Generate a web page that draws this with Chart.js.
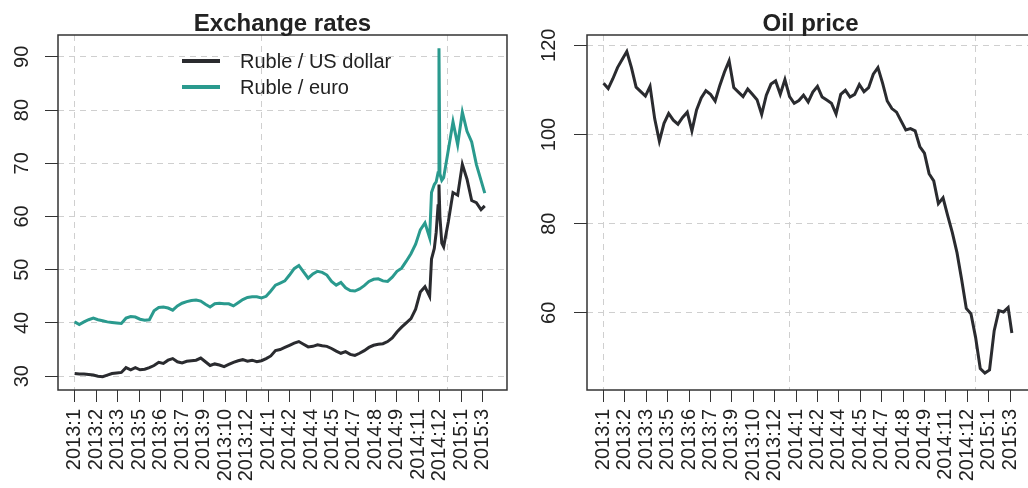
<!DOCTYPE html>
<html>
<head>
<meta charset="utf-8">
<script src="https://cdn.jsdelivr.net/npm/chart.js"></script>
<style>
    html, body { margin: 0; padding: 0; background: #fff; overflow: hidden; }
    #wrap { position: relative; width: 1028px; height: 488px; overflow: hidden; }
    #fx-chart { position: absolute; left: 0; top: 0; }
    #oil-chart { position: absolute; left: 514px; top: 0; }
</style>
</head>
<body>
<div id="wrap">
    <canvas id="fx-chart" width="514" height="488"></canvas>
    <canvas id="oil-chart" width="530" height="488"></canvas>
</div>
<script>
// trading day index (1 = first day of 2013)
var tickDays = [1, 24, 47, 70, 93, 116, 139, 162, 185, 208, 231, 254, 277, 300, 323, 346, 369, 392, 415, 438];
var tickLabels = ["2013:1", "2013:2", "2013:3", "2013:5", "2013:6", "2013:7", "2013:9", "2013:10", "2013:12", "2014:1",
    "2014:2", "2014:4", "2014:5", "2014:7", "2014:8", "2014:9", "2014:11", "2014:12", "2015:1", "2015:3"];
var gridDays = [0, 200, 400];

var fxDays = [1, 6, 11, 16, 21, 26, 31, 36, 41, 46, 51, 56, 61, 66, 71, 76, 81, 86, 91, 96,
    101, 106, 111, 116, 121, 126, 131, 136, 141, 146, 151, 156, 161, 166, 171, 176, 181, 186, 191, 196,
    201, 206, 211, 216, 221, 226, 231, 236, 241, 246, 251, 256, 261, 266, 271, 276, 281, 286, 291, 296,
    301, 306, 311, 316, 321, 326, 331, 336, 341, 346, 351, 356, 361, 366, 371, 376, 381,
    383, 386, 388, 390, 391, 392, 394, 396, 401, 406, 411, 416, 421, 426, 431, 436, 440];
var rubUsd = [30.5, 30.4, 30.4, 30.3, 30.2, 30.0, 29.9, 30.2, 30.5, 30.6, 30.7, 31.6, 31.2, 31.6, 31.2, 31.3, 31.6, 32.0, 32.6, 32.4,
    33.0, 33.3, 32.7, 32.5, 32.8, 32.9, 33.0, 33.4, 32.7, 32.0, 32.3, 32.1, 31.8, 32.2, 32.6, 32.9, 33.1, 32.8, 33.0, 32.7,
    32.9, 33.3, 33.8, 34.8, 35.0, 35.4, 35.8, 36.2, 36.5, 36.0, 35.5, 35.6, 35.9, 35.7, 35.6, 35.2, 34.7, 34.3, 34.6, 34.1,
    33.9, 34.3, 34.8, 35.4, 35.8, 36.0, 36.1, 36.5, 37.2, 38.3, 39.2, 40.0, 40.8, 42.6, 45.8, 46.8, 45.0,
    52.0, 54.0, 57.0, 62.0, 66.0, 60.0, 55.0, 54.3, 59.0, 64.5, 64.0, 69.8, 67.0, 63.0, 62.6, 61.3, 62.0];
var rubEur = [40.2, 39.7, 40.2, 40.6, 40.9, 40.6, 40.4, 40.2, 40.1, 40.0, 39.9, 40.9, 41.2, 41.1, 40.7, 40.5, 40.6, 42.3, 42.9, 43.0,
    42.8, 42.4, 43.2, 43.7, 44.0, 44.2, 44.3, 44.1, 43.5, 43.0, 43.6, 43.7, 43.6, 43.6, 43.2, 43.8, 44.4, 44.8, 44.9, 44.9,
    44.7, 45.0, 46.0, 47.1, 47.5, 47.9, 49.0, 50.2, 50.8, 49.6, 48.4, 49.2, 49.7, 49.5, 49.0, 47.8, 47.1, 47.6, 46.6, 46.1,
    46.0, 46.4, 47.0, 47.8, 48.2, 48.3, 47.9, 47.8, 48.6, 49.7, 50.3, 51.6, 53.0, 54.8, 57.5, 58.8, 56.0,
    64.5, 66.0, 66.5, 68.2, 91.6, 68.0, 66.8, 67.3, 72.5, 77.8, 73.5, 79.6, 76.0, 74.0, 69.8, 66.8, 64.4];

var oilDays = [1, 6, 11, 16, 21, 26, 31, 36, 41, 46, 51, 56, 61, 66, 71, 76, 81, 86, 91, 96,
    101, 106, 111, 116, 121, 126, 131, 136, 141, 146, 151, 156, 161, 166, 171, 176, 181, 186, 191, 196,
    201, 206, 211, 216, 221, 226, 231, 236, 241, 246, 251, 256, 261, 266, 271, 276, 281, 286, 291, 296,
    301, 306, 311, 316, 321, 326, 331, 336, 341, 346, 351, 356, 361, 366, 371, 376, 381, 386, 391, 396,
    401, 406, 411, 416, 421, 426, 431, 436, 440];
var oilPrice = [111.5, 110.3, 112.5, 115.0, 116.8, 118.6, 115.0, 110.6, 109.6, 108.6, 110.8, 103.5, 98.5, 102.5, 104.7, 103.2, 102.3, 103.8, 105.0, 100.8,
    105.5, 108.2, 109.8, 109.0, 107.5, 111.0, 114.0, 116.5, 110.5, 109.5, 108.5, 110.2, 109.0, 107.8, 104.5, 108.8, 111.3, 112.0, 109.0, 112.3,
    108.5, 107.0, 107.6, 108.8, 107.3, 109.5, 110.8, 108.4, 107.7, 107.0, 104.6, 109.0, 109.9, 108.4, 109.0, 111.2, 109.6, 110.5, 113.5, 115.0,
    111.5, 107.5, 105.8, 105.0, 103.0, 101.0, 101.3, 100.8, 97.3, 95.8, 91.2, 89.6, 84.5, 85.8, 81.8, 78.0, 73.5, 67.5, 61.0, 59.8,
    54.5, 47.5, 46.5, 47.2, 56.0, 60.5, 60.2, 61.2, 55.5];

var fxTicks = [30, 40, 50, 60, 70, 80, 90];
var oilTicks = [60, 80, 100, 120];

var gridColor = "#cfcfcf";
var axisColor = "#333333";
var textColor = "#222222";
Chart.defaults.font.family = "'Liberation Sans', Arial, sans-serif";
Chart.defaults.font.size = 20;
Chart.defaults.color = textColor;

function toPoints(days, vals) {
    var pts = [];
    for (var i = 0; i < days.length; i++) {
        pts.push({ x: days[i], y: vals[i] });
    }
    return pts;
}

// R style frame: dashed grid, box, rotated y labels, title, legend
var framePlugin = {
    id: "rframe",
    beforeDatasetsDraw: function (chart) {
        var ctx = chart.ctx, a = chart.chartArea, xs = chart.scales.x;
        ctx.save();
        ctx.strokeStyle = gridColor;
        ctx.lineWidth = 1;
        ctx.setLineDash([6, 5]);
        gridDays.forEach(function (d) {
            var px = Math.round(xs.getPixelForValue(d)) + 0.5;
            ctx.beginPath();
            ctx.moveTo(px, a.top);
            ctx.lineTo(px, a.bottom);
            ctx.stroke();
        });
        ctx.restore();
    },
    afterDraw: function (chart, args, opts) {
        var ctx = chart.ctx, a = chart.chartArea, ys = chart.scales.y;
        ctx.save();
        ctx.strokeStyle = axisColor;
        ctx.lineWidth = 1.5;
        ctx.strokeRect(a.left, a.top, a.right - a.left, a.bottom - a.top);

        ctx.fillStyle = textColor;
        ctx.font = "20px 'Liberation Sans', Arial, sans-serif";
        ctx.textAlign = "center";
        ctx.textBaseline = "middle";
        ys.ticks.forEach(function (t) {
            var py = ys.getPixelForValue(t.value);
            ctx.save();
            ctx.translate(opts.labelX, py);
            ctx.rotate(-Math.PI / 2);
            ctx.fillText(String(t.value), 0, 0);
            ctx.restore();
        });

        ctx.font = "bold 24px 'Liberation Sans', Arial, sans-serif";
        ctx.textBaseline = "alphabetic";
        ctx.fillText(opts.title, (a.left + a.right) / 2, 31);

        if (opts.legend) {
            var lg = opts.legend;
            ctx.font = "20px 'Liberation Sans', Arial, sans-serif";
            ctx.textAlign = "left";
            ctx.textBaseline = "middle";
            chart.data.datasets.forEach(function (ds, k) {
                var y = lg.y + k * lg.step;
                ctx.strokeStyle = ds.borderColor;
                ctx.lineWidth = 4;
                ctx.beginPath();
                ctx.moveTo(lg.x1, y);
                ctx.lineTo(lg.x2, y);
                ctx.stroke();
                ctx.fillStyle = textColor;
                ctx.fillText(ds.label, lg.tx, y + 1);
            });
        }
        ctx.restore();
    }
};

function makeOptions(yMin, yMax, yTicks, yWidth, padRight, frame) {
    return {
        responsive: false,
        animation: false,
        layout: { padding: { left: 0, right: padRight, top: 35, bottom: 0 } },
        plugins: {
            legend: { display: false },
            tooltip: { enabled: false },
            rframe: frame
        },
        elements: { point: { radius: 0 }, line: { tension: 0, borderWidth: 3 } },
        scales: {
            x: {
                type: "linear",
                min: -16.8,
                max: 463.8,
                afterBuildTicks: function (scale) {
                    scale.ticks = tickDays.map(function (d) { return { value: d }; });
                },
                afterFit: function (scale) { scale.height = 98; },
                ticks: {
                    autoSkip: false,
                    minRotation: 90,
                    maxRotation: 90,
                    padding: 7,
                    color: textColor,
                    callback: function (value, index) { return tickLabels[index]; }
                },
                grid: { drawOnChartArea: false, drawTicks: true, tickLength: 12, color: axisColor, tickColor: axisColor },
                border: { display: false }
            },
            y: {
                min: yMin,
                max: yMax,
                afterBuildTicks: function (scale) {
                    scale.ticks = yTicks.map(function (v) { return { value: v }; });
                },
                afterFit: function (scale) { scale.width = yWidth; },
                ticks: { display: false },
                grid: { color: gridColor, drawTicks: true, tickLength: 13, tickColor: axisColor, tickBorderDash: [] },
                border: { display: false, dash: [6, 5] }
            }
        }
    };
}

new Chart(document.getElementById("fx-chart"), {
    type: "line",
    data: {
        datasets: [
            { label: "Ruble / US dollar", data: toPoints(fxDays, rubUsd), borderColor: "#2a2b2f" },
            { label: "Ruble / euro", data: toPoints(fxDays, rubEur), borderColor: "#2a9a8e" }
        ]
    },
    options: makeOptions(27.4, 94.1, fxTicks, 58, 2, {
        title: "Exchange rates",
        labelX: 22,
        legend: { x1: 182, x2: 220, tx: 240, y: 61, step: 26 }
    }),
    plugins: [framePlugin]
});

new Chart(document.getElementById("oil-chart"), {
    type: "line",
    data: {
        datasets: [
            { label: "Oil price", data: toPoints(oilDays, oilPrice), borderColor: "#2a2b2f" }
        ]
    },
    options: makeOptions(42.7, 122.3, oilTicks, 73, 10, {
        title: "Oil price",
        labelX: 35,
        legend: null
    }),
    plugins: [framePlugin]
});
</script>
</body>
</html>
